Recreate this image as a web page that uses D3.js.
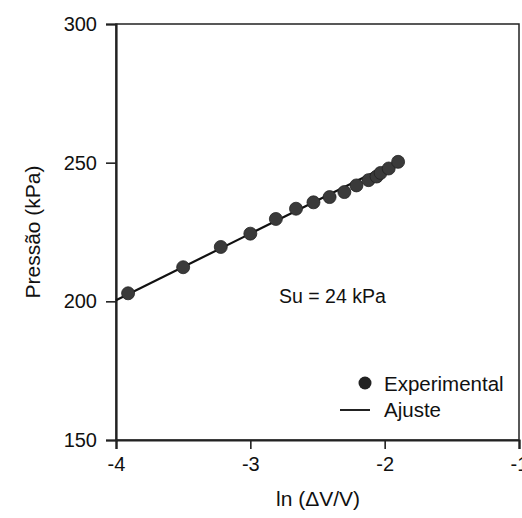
<html>
<script src='https://d3js.org/d3.v7.min.js'></script>
<style>
 body {margin:0; background:#fff;}
 text {font-family: 'Liberation Sans', Arial, sans-serif; fill:#111;}
</style>
<body onload='init()'>
<svg width=522 height=518></svg>
<script>
// experimental points: ln(dV/V) vs pressure (kPa)
var lnDV = [-3.91, -3.50, -3.22, -3.00, -2.81, -2.66, -2.53, -2.41, -2.30, -2.21, -2.12, -2.06, -2.03, -1.97, -1.90];
var pressure = [202.9, 212.3, 219.6, 224.4, 229.7, 233.4, 235.7, 237.6, 239.4, 241.8, 243.7, 245.0, 246.3, 247.9, 250.3];
// fitted line (slope = Su)
var fitX = [-4.0, -1.95];
var fitY = [200.4, 249.6];
var xTicks = [-4, -3, -2, -1];
var yTicks = [150, 200, 250, 300];

function init() {
  var svg = d3.select('svg');
  var left = 116, right = 519, top = 24, bottom = 440;

  var x = d3.scaleLinear().domain([-4, -1]).range([left, right]);
  var y = d3.scaleLinear().domain([150, 300]).range([bottom, top]);

  // frame
  svg.append('rect')
    .attr('x', left).attr('y', top)
    .attr('width', right - left).attr('height', bottom - top)
    .attr('fill', 'none').attr('stroke', '#222').attr('stroke-width', 1.5);

  var ax = svg.append('g')
    .attr('transform', 'translate(0,' + bottom + ')')
    .call(d3.axisBottom(x).tickValues(xTicks).tickSize(9).tickPadding(8).tickFormat(d3.format('d')));
  var ay = svg.append('g')
    .attr('transform', 'translate(' + left + ',0)')
    .call(d3.axisLeft(y).tickValues(yTicks).tickSize(10).tickPadding(9));
  [ax, ay].forEach(function(g) {
    g.select('.domain').attr('stroke', '#222').attr('stroke-width', 2.2);
    g.selectAll('.tick line').attr('stroke', '#222').attr('stroke-width', 1.6);
    g.selectAll('.tick text').style('font-size', '20px')
      .style('font-family', "'Liberation Sans', Arial, sans-serif").attr('fill', '#111');
  });
  ax.selectAll('.tick text').text(function(d) { return String(d); });

  // fitted line
  svg.append('line')
    .attr('x1', x(fitX[0])).attr('y1', y(fitY[0]))
    .attr('x2', x(fitX[1])).attr('y2', y(fitY[1]))
    .attr('stroke', '#111').attr('stroke-width', 2.2);

  // points
  svg.append('g').selectAll('circle')
    .data(lnDV)
    .enter().append('circle')
    .attr('cx', function(d) { return x(d); })
    .attr('cy', function(d, i) { return y(pressure[i]); })
    .attr('r', 6.5)
    .attr('fill', '#3a3a3a')
    .attr('stroke', '#222').attr('stroke-width', 0.8);

  // annotation
  svg.append('text').attr('x', 279).attr('y', 303)
    .style('font-size', '19.5px').text('Su = 24 kPa');

  // legend
  svg.append('circle').attr('cx', 365).attr('cy', 383).attr('r', 6.5)
    .attr('fill', '#222');
  svg.append('text').attr('x', 384).attr('y', 391)
    .style('font-size', '20.5px').text('Experimental');
  svg.append('line').attr('x1', 340).attr('x2', 370).attr('y1', 410).attr('y2', 410)
    .attr('stroke', '#222').attr('stroke-width', 2);
  svg.append('text').attr('x', 384).attr('y', 417)
    .style('font-size', '20.5px').text('Ajuste');

  // axis titles
  svg.append('text').attr('x', 318).attr('y', 506)
    .attr('text-anchor', 'middle').style('font-size', '21px').text('ln (\u0394V/V)');
  svg.append('text')
    .attr('transform', 'translate(40,232) rotate(-90)')
    .attr('text-anchor', 'middle').style('font-size', '21px').text('Press\u00e3o (kPa)');
}
</script>
</body>
</html>
